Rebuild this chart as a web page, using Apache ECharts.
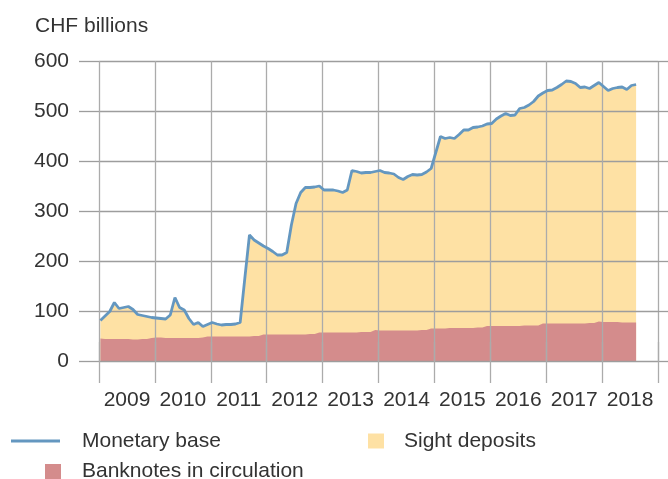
<!DOCTYPE html>
<html>
<head>
<meta charset="utf-8">
<script src="https://cdn.jsdelivr.net/npm/echarts@6/dist/echarts.min.js"></script>
<style>
  html, body { margin: 0; padding: 0; background: #fff; }
  #chart { width: 668px; height: 479px; }
</style>
</head>
<body>
<div id="chart"></div>
<script>
// Monthly figures, January 2009 to August 2018 (CHF billions)
const firstYear = 2009;
const yearLabels = ['2009', '2010', '2011', '2012', '2013', '2014', '2015', '2016', '2017', '2018'];

const monetaryBase = [
  81, 90, 99, 117, 105, 107, 109, 103, 93, 91, 89, 87,
  86, 85, 84, 92, 127, 107, 102, 85, 73, 77, 69, 73,
  77, 74, 72, 73, 73, 74, 77, 165, 252, 242, 236, 230,
  225, 219, 212, 212, 217, 272, 315, 337, 347, 347, 348, 350,
  342, 342, 342, 340, 337, 342, 381, 379, 376, 377, 377, 379,
  381, 377, 376, 374, 367, 363, 369, 373, 372, 373, 378, 385,
  417, 449, 445, 447, 445, 453, 462, 462, 467, 468, 470, 474,
  475, 484, 490, 495, 491, 492, 505, 507, 512, 519, 530, 536,
  541, 542, 547, 553, 560, 559, 555, 547, 548, 545, 551, 557,
  549, 541, 545, 547, 548, 543, 551, 553
];

const banknotes = [
  45, 44, 44, 44, 44, 44, 44, 43, 43, 44, 44, 46,
  47, 47, 46, 46, 46, 46, 46, 46, 46, 46, 47, 49,
  49, 49, 49, 49, 49, 49, 49, 49, 49, 50, 50, 53,
  53, 53, 53, 53, 53, 53, 53, 53, 53, 54, 54, 57,
  57, 57, 57, 57, 57, 57, 57, 57, 58, 58, 58, 62,
  61, 61, 61, 61, 61, 61, 61, 61, 61, 62, 62, 65,
  65, 65, 65, 66, 66, 66, 66, 66, 66, 67, 67, 70,
  70, 70, 70, 70, 70, 70, 70, 71, 71, 71, 71, 75,
  75, 75, 75, 75, 75, 75, 75, 75, 75, 76, 76, 79,
  78, 78, 78, 78, 77, 77, 77, 77
];

// Sight deposits make up the rest of the monetary base
const sightDeposits = monetaryBase.map((v, i) => v - banknotes[i]);

const colors = {
  base: '#6497c0',
  sight: '#fee1a4',
  notes: '#d48c8c',
  gridH: '#9d9d9d',
  gridV: '#ababab',
  text: '#333333'
};
const font = 'Liberation Sans, Arial, sans-serif';

// position of a month on the decimal-year axis
const monthPos = i => firstYear + (i + 0.3) / 12;
const toPoints = arr => arr.map((v, i) => [monthPos(i), v]);

// the sight-deposit band sits on top of the banknotes, so its upper edge is their sum
const sightTop = sightDeposits.map((v, i) => v + banknotes[i]);

const chart = echarts.init(document.getElementById('chart'), null, { renderer: 'canvas' });

const gridLineH = { color: colors.gridH, width: 1.3 };
const gridLineV = { color: colors.gridV, width: 1.3 };

// areas on layer 0, grid lines on layer 1, the monetary base line on layer 2
chart.setOption({
  animation: false,
  backgroundColor: '#fff',
  grid: { left: 99, right: 10, top: 61, bottom: 118, containLabel: false, outerBoundsMode: 'none' },
  graphic: [{
    type: 'text', left: 35, top: 16,
    style: { text: 'CHF billions', fontSize: 21, fill: colors.text, fontFamily: font }
  }],
  xAxis: [{
    type: 'value', min: firstYear, max: firstYear + 10, interval: 1, position: 'bottom', zlevel: 1,
    axisLine: { show: false },
    axisTick: { show: true, length: 22, lineStyle: gridLineV },
    splitLine: { show: true, lineStyle: gridLineV },
    axisLabel: {
      formatter: v => (v < firstYear + 10 ? yearLabels[v - firstYear] : ''),
      padding: [0, 0, 0, 56], margin: 29,
      fontSize: 21, color: colors.text, fontFamily: font
    }
  }, {
    type: 'value', min: firstYear, max: firstYear + 10, interval: 1, position: 'top', zlevel: 1,
    axisLine: { show: false },
    axisTick: { show: true, length: 19, lineStyle: gridLineV },
    splitLine: { show: false },
    axisLabel: { show: false }
  }],
  yAxis: [{
    type: 'value', min: 0, max: 600, interval: 100, position: 'left', zlevel: 1,
    axisLine: { show: false },
    axisTick: { show: true, length: 20, lineStyle: gridLineH },
    splitLine: { show: true, lineStyle: gridLineH },
    axisLabel: { margin: 30, fontSize: 21, color: colors.text, fontFamily: font, padding: [0, 0, 3, 0] }
  }, {
    type: 'value', min: 0, max: 600, interval: 100, position: 'right', zlevel: 1,
    axisLine: { show: false },
    axisTick: { show: true, length: 10, lineStyle: gridLineH },
    splitLine: { show: false },
    axisLabel: { show: false }
  }],
  legend: [{
    data: [{ name: 'Monetary base', icon: 'rect' }],
    left: 11, top: 430.5, padding: 0, itemWidth: 49, itemHeight: 3, selectedMode: false,
    itemStyle: { borderWidth: 0 },
    textStyle: { fontSize: 21, color: colors.text, fontFamily: font, padding: [0, 0, 0, 17] }
  }, {
    data: [{ name: 'Sight deposits', icon: 'rect' }],
    left: 368, top: 430.5, padding: 0, itemWidth: 16, itemHeight: 15, selectedMode: false,
    itemStyle: { borderWidth: 0 },
    textStyle: { fontSize: 21, color: colors.text, fontFamily: font, padding: [0, 0, 0, 15] }
  }, {
    data: [{ name: 'Banknotes in circulation', icon: 'rect' }],
    left: 45, top: 461, padding: 0, itemWidth: 16, itemHeight: 15, selectedMode: false,
    itemStyle: { borderWidth: 0 },
    textStyle: { fontSize: 21, color: colors.text, fontFamily: font, padding: [0, 0, 0, 16] }
  }],
  series: [{
    name: 'Sight deposits', type: 'line', zlevel: 0, z: 1,
    data: toPoints(sightTop), symbol: 'none',
    itemStyle: { color: colors.sight },
    lineStyle: { width: 0 },
    areaStyle: { color: colors.sight, opacity: 1 }
  }, {
    name: 'Banknotes in circulation', type: 'line', zlevel: 0, z: 2,
    data: toPoints(banknotes), symbol: 'none',
    itemStyle: { color: colors.notes },
    lineStyle: { width: 0 },
    areaStyle: { color: colors.notes, opacity: 1 }
  }, {
    name: 'Monetary base', type: 'line', zlevel: 2,
    data: toPoints(monetaryBase), symbol: 'none',
    itemStyle: { color: colors.base },
    lineStyle: { color: colors.base, width: 2.8 }
  }]
});
</script>
</body>
</html>
